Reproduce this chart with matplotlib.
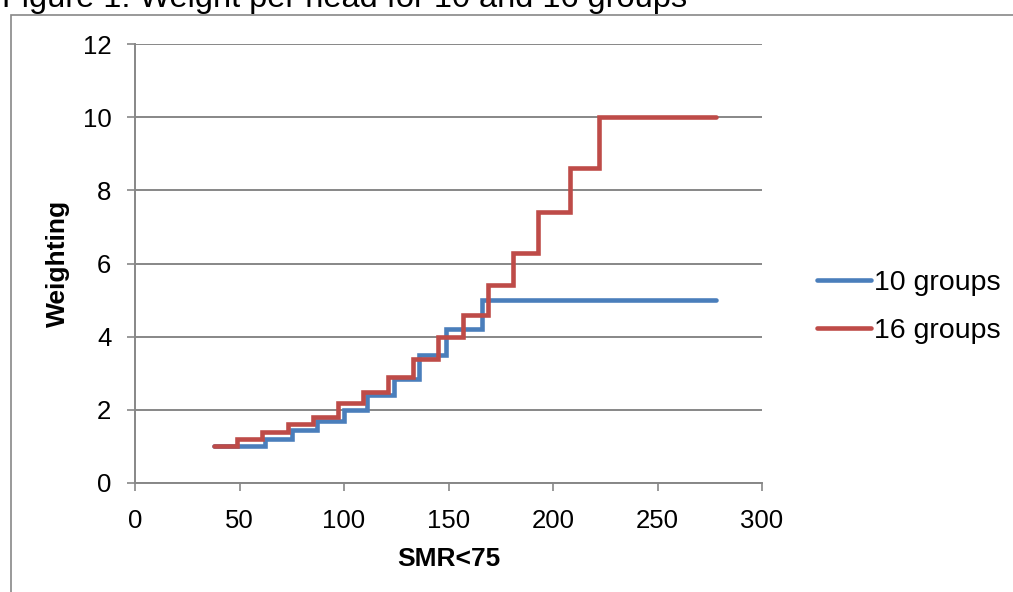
import numpy as np
import matplotlib
matplotlib.use("Agg")
import matplotlib.pyplot as plt
from matplotlib.patches import Rectangle

plt.rcParams['font.family'] = ['Liberation Sans', 'DejaVu Sans']

# step edges (SMR<75) and weighting levels
edges_10 = [38, 62, 75, 87, 100, 111, 124, 136, 149, 166, 278]
levels_10 = [1.0, 1.2, 1.45, 1.7, 2.0, 2.4, 2.85, 3.5, 4.2, 5.0]
edges_16 = [38, 49, 61, 73, 85, 97, 109, 121, 133, 145, 157, 169, 181, 193, 208, 222, 278]
levels_16 = [1.0, 1.2, 1.4, 1.6, 1.8, 2.2, 2.5, 2.9, 3.4, 4.0, 4.6, 5.4, 6.3, 7.4, 8.6, 10.0]
xticks = [0, 50, 100, 150, 200, 250, 300]
yticks = [0, 2, 4, 6, 8, 10, 12]

grey = '#878787'
fig = plt.figure(figsize=(10.13, 5.92), dpi=100)

# chart border (cut at right/bottom like the screenshot)
fig.patches.append(Rectangle((11/1013, -0.05), 1.2, 1 - 15/592 + 0.05, transform=fig.transFigure,
                             fill=False, edgecolor=grey, linewidth=1.2, clip_on=False))
fig.text(2/1013, 1 - 7/592, 'Figure 1: Weight per head for 10 and 16 groups',
         fontsize=23.4, va='baseline', ha='left')

ax = fig.add_axes([135/1013, 1 - 483/592, (762-135)/1013, (483-44)/592])

for edges, levels, col, lab in [(edges_10, levels_10, '#4A7EBB', '10 groups'),
                                (edges_16, levels_16, '#BE4B48', '16 groups')]:
    ax.step(edges, list(levels) + [levels[-1]], where='post', color=col, lw=3.3,
            solid_capstyle='round', solid_joinstyle='miter', label=lab, zorder=3)

ax.set_xlim(0, 300)
ax.set_ylim(0, 12)
ax.set_xticks(xticks)
ax.set_yticks(yticks)
ax.grid(axis='y', color=grey, lw=1.4)
for s in ['top', 'right']:
    ax.spines[s].set_visible(False)
for s in ['left', 'bottom']:
    ax.spines[s].set_color(grey)
    ax.spines[s].set_linewidth(1.4)
ax.tick_params(colors=grey, width=1.2, length=6, labelcolor='black', labelsize=18.5)
ax.tick_params(axis='y', pad=11)
ax.tick_params(axis='x', pad=13)
ax.set_xlabel('SMR<75', fontsize=19, fontweight='bold', labelpad=10)
ax.set_ylabel('Weighting', fontsize=19, fontweight='bold', labelpad=9)

ax.legend(loc='center left', bbox_to_anchor=(817/1013, 1 - 307/592), bbox_transform=fig.transFigure,
          frameon=False, fontsize=20.5, handlelength=1.9, handletextpad=0.1, labelspacing=0.75,
          borderaxespad=0, borderpad=0)

fig.savefig('out.png', dpi=100)
